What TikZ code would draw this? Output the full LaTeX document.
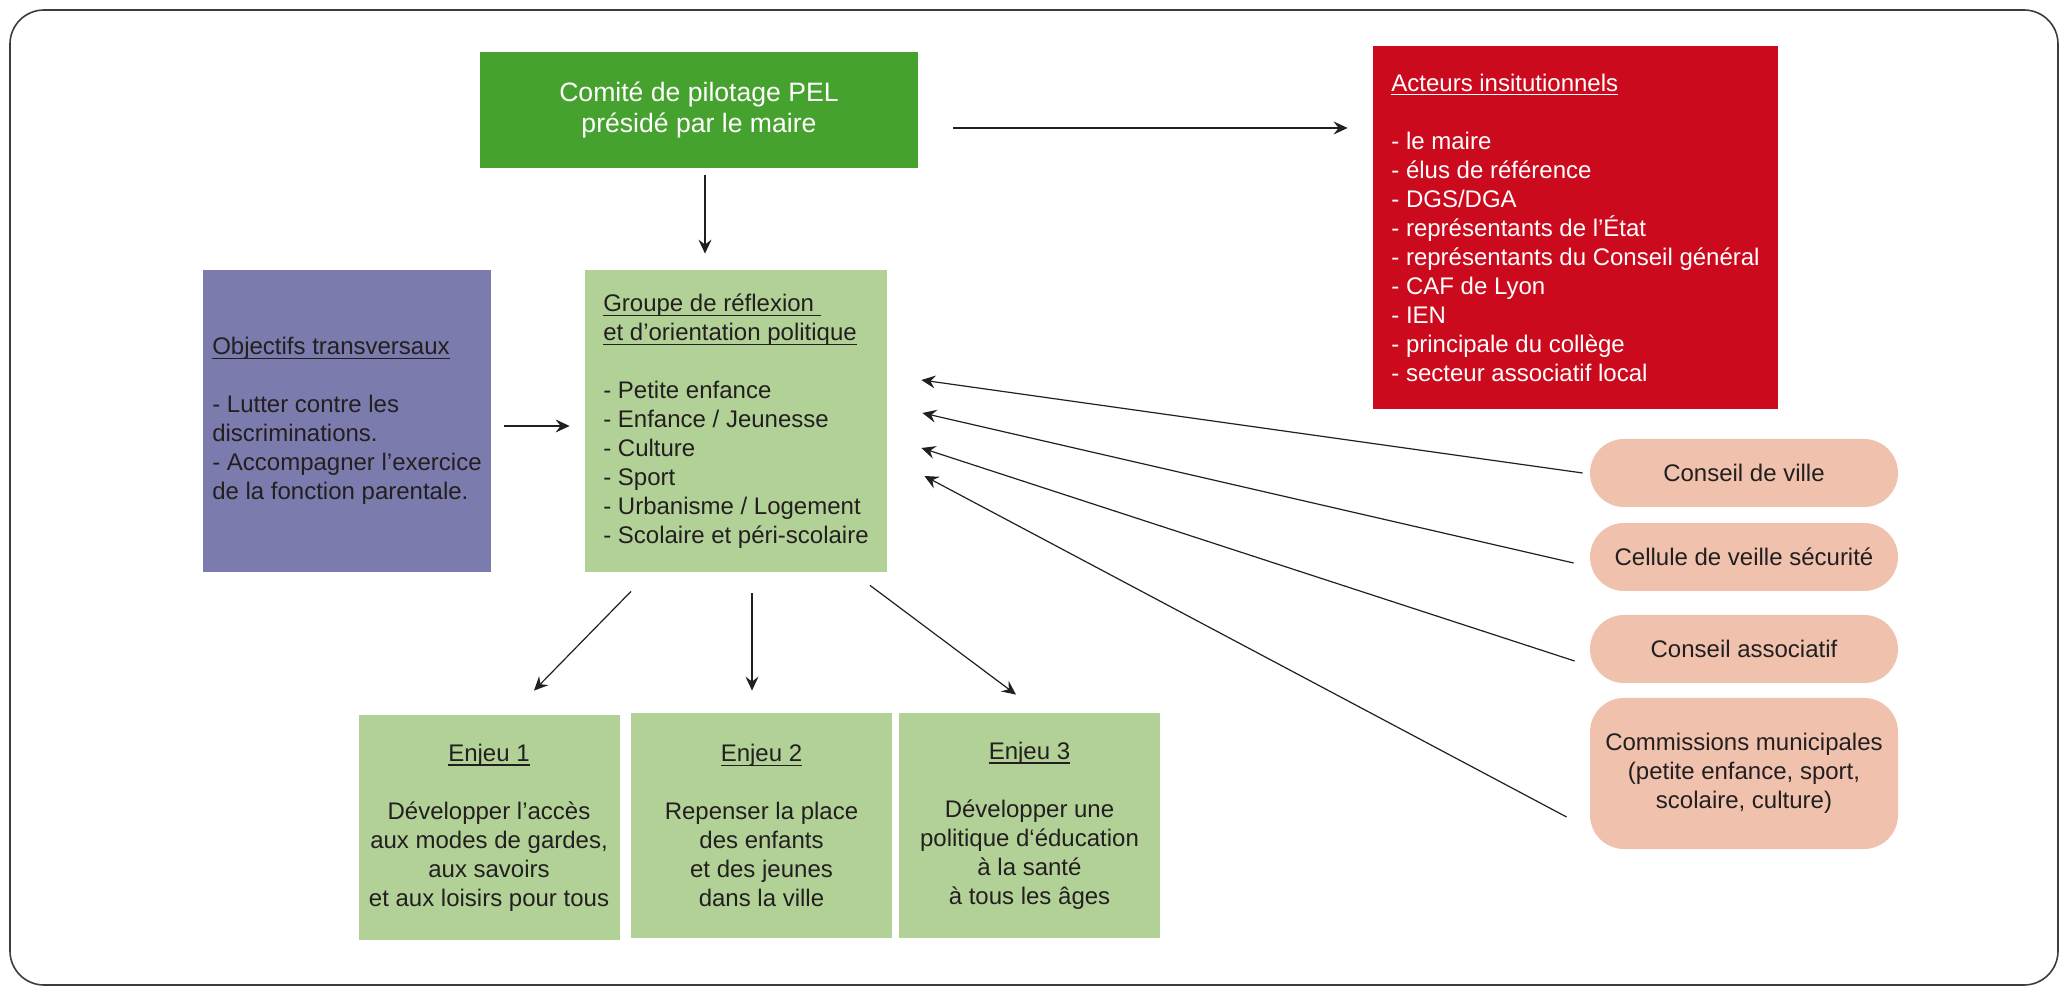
\documentclass[tikz,border=0pt]{standalone}
\usepackage{fontspec}
\setmainfont{Liberation Sans}
\usepackage{tikz}
\usetikzlibrary{arrows.meta}
\definecolor{vertpel}{RGB}{70,162,46}
\definecolor{vertclair}{RGB}{178,209,151}
\definecolor{rougepel}{RGB}{204,10,30}
\definecolor{violetpel}{RGB}{123,123,173}
\definecolor{rosepel}{RGB}{240,194,173}
\definecolor{trait}{RGB}{35,31,32}
\definecolor{cadre}{RGB}{60,60,60}
\newcommand{\souligne}[1]{\leavevmode\setbox0=\hbox{#1}\rlap{\rule[-2.2pt]{\wd0}{0.6pt}}\box0}
\tikzset{
  boite/.style={inner sep=0pt, text=trait, font=\fontsize{12}{14.5}\selectfont},
  gauche/.style={boite, align=left},
  centre/.style={boite, align=center},
  enjeu/.style={centre, fill=vertclair, minimum width=130.5pt, minimum height=112.5pt},
  instance/.style={centre, fill=rosepel, rounded corners=17pt, minimum width=154pt, minimum height=34pt},
  fleche/.style={draw=trait, line width=0.6pt, -{Stealth[length=7pt,width=6.5pt,inset=2.5pt]}},
}

\begin{document}
\begin{tikzpicture}[x=0.5pt,y=-0.5pt]
        \useasboundingbox (0,0) rectangle (2062,988);
        \draw [cadre, line width=0.8pt, rounded corners=17pt] (10,10) rectangle (2058,985);
        \node [centre, fill=vertpel, text=white, font=\fontsize{13.3}{15.3}\selectfont, minimum width=219pt, minimum height=58pt] (comite) at (699,110) {Comité de pilotage PEL\\présidé par le maire};
        \node [gauche, fill=rougepel, text=white, minimum width=202.5pt, minimum height=181.5pt] (acteurs) at (1575.5,227.5) {\souligne{Acteurs insitutionnels}\\[14.5pt]- le maire\\- élus de référence\\- DGS/DGA\\- représentants de l’État\\- représentants du Conseil général\\- CAF de Lyon\\- IEN\\- principale du collège\\- secteur associatif local};
        \node [gauche, fill=violetpel, minimum width=144pt, minimum height=151pt] (objectifs) at (347,421) {\souligne{Objectifs transversaux}\\[14.5pt]- Lutter contre les\\discriminations.\\- Accompagner l’exercice\\de la fonction parentale.};
        \node [gauche, fill=vertclair, minimum width=151pt, minimum height=151pt] (groupe) at (736,421) {\souligne{Groupe de réflexion\ }\\\souligne{et d’orientation politique}\\[14.5pt]- Petite enfance\\- Enfance / Jeunesse\\- Culture\\- Sport\\- Urbanisme / Logement\\- Scolaire et péri-scolaire};
        \node [enjeu] (enjeuA) at (489,827.5) {\souligne{Enjeu 1}\\[14.5pt]Développer l’accès\\aux modes de gardes,\\aux savoirs\\et aux loisirs pour tous};
        \node [enjeu] (enjeuB) at (761.5,825.5) {\souligne{Enjeu 2}\\[14.5pt]Repenser la place\\des enfants\\et des jeunes\\dans la ville};
        \node [enjeu] (enjeuC) at (1029.5,825.5) {\souligne{Enjeu 3}\\[14.5pt]Développer une\\politique d‘éducation\\à la santé\\à tous les âges};
        \node [instance] (conseil) at (1744,473) {Conseil de ville};
        \node [instance] (cellule) at (1744,557) {Cellule de veille sécurité};
        \node [instance] (associatif) at (1744,649) {Conseil associatif};
        \node [instance, minimum height=75.5pt] (commissions) at (1744,773.5) {Commissions municipales\\(petite enfance, sport,\\scolaire, culture)};
        \draw [fleche] ([shift={(35,18)}]comite.east) -- ([shift={(-25,-99.5)}]acteurs.west);
        \draw [fleche] ([shift={(6,7)}]comite.south) -- ([shift={(-31,-16)}]groupe.north);
        \draw [fleche] ([shift={(13,5)}]objectifs.east) -- ([shift={(-15,5)}]groupe.west);
        \draw [fleche] ([shift={(-105,19)}]groupe.south) -- ([shift={(45,-24)}]enjeuA.north);
        \draw [fleche] ([shift={(16,21)}]groupe.south) -- ([shift={(-9.5,-22)}]enjeuB.north);
        \draw [fleche] ([shift={(134,13)}]groupe.south) -- ([shift={(-13.5,-18)}]enjeuC.north);
        \draw [fleche] ([shift={(-7,0)}]conseil.west) -- ([shift={(34,-41)}]groupe.east);
        \draw [fleche] ([shift={(-16,6)}]cellule.west) -- ([shift={(35,-8)}]groupe.east);
        \draw [fleche] ([shift={(-15,12)}]associatif.west) -- ([shift={(34,27)}]groupe.east);
        \draw [fleche] ([shift={(-23,43.5)}]commissions.west) -- ([shift={(37,55)}]groupe.east);
      \end{tikzpicture}
\end{document}
